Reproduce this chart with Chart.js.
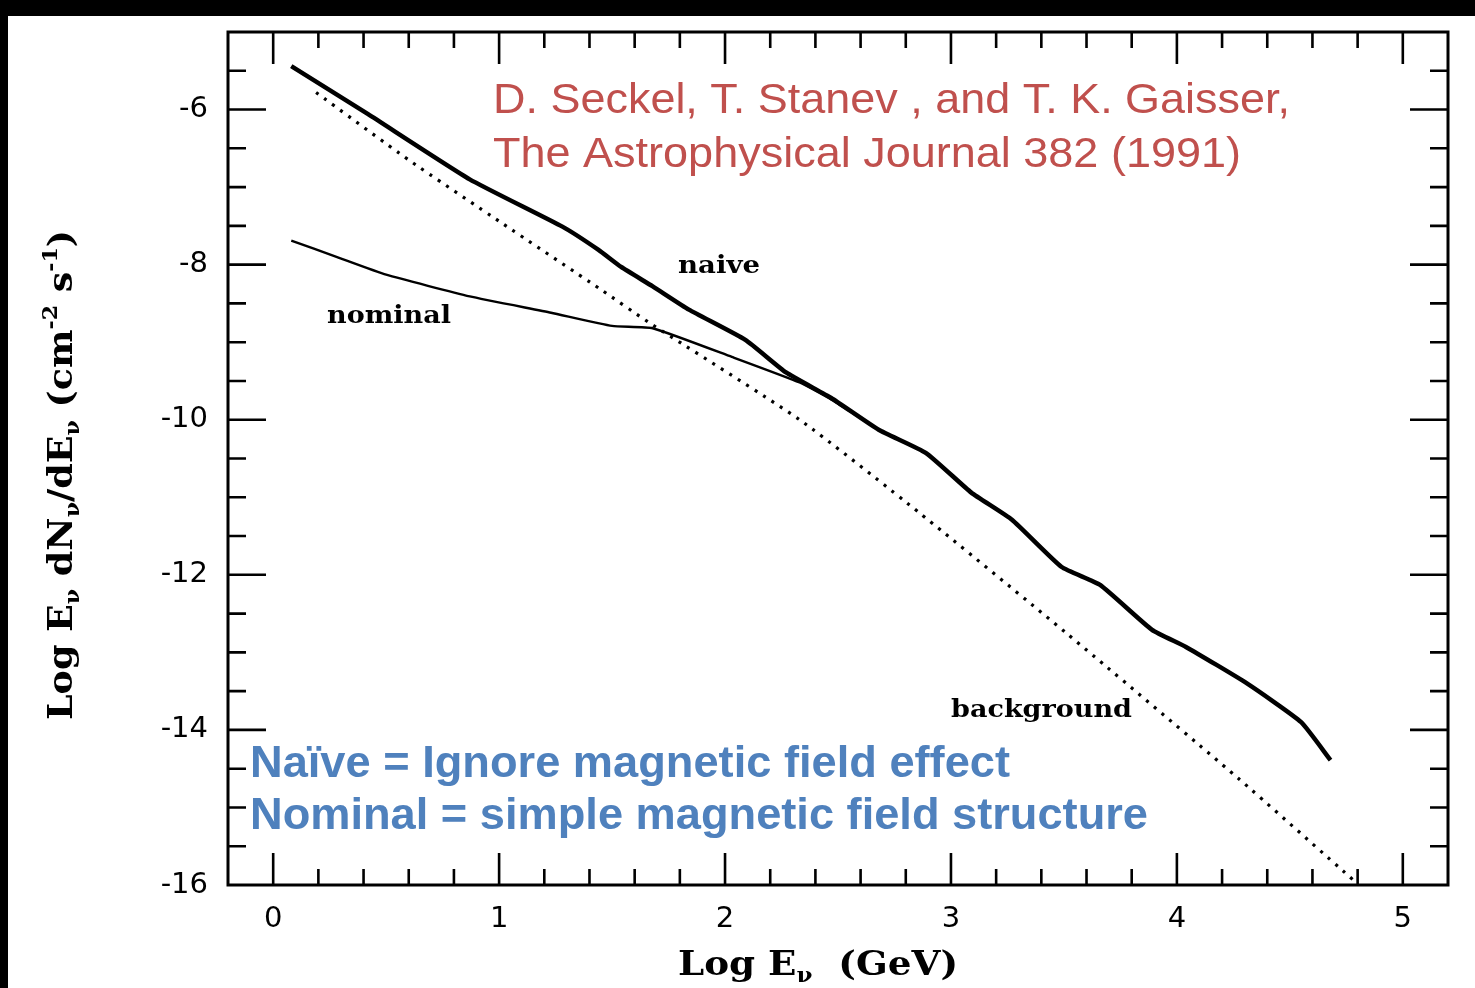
<!DOCTYPE html>
<html>
<head>
<meta charset="utf-8">
<script src="https://cdn.jsdelivr.net/npm/chart.js@4.4.1/dist/chart.umd.min.js"></script>
<style>
  html, body { margin: 0; padding: 0; background: #fff; }
  #wrap { width: 1475px; height: 988px; }
</style>
</head>
<body>
<div id="wrap"><canvas id="chart" width="1475" height="988"></canvas></div>
<script>
// curves (log E in GeV, log flux)
const naiveX = [0.08, 0.42, 0.87, 1.28, 1.44, 1.54, 1.68, 1.84, 2.09, 2.27, 2.47, 2.68, 2.89, 3.09, 3.27, 3.49, 3.66, 3.89, 4.04, 4.31, 4.55, 4.68];
const naiveY = [-5.44, -6.06, -6.90, -7.51, -7.81, -8.03, -8.28, -8.58, -8.97, -9.39, -9.72, -10.13, -10.43, -10.94, -11.29, -11.90, -12.13, -12.71, -12.93, -13.40, -13.90, -14.39];

const nominalX = [0.08, 0.28, 0.50, 0.87, 1.23, 1.50, 1.68, 2.03, 2.33, 2.47, 2.68];
const nominalY = [-7.69, -7.90, -8.13, -8.41, -8.62, -8.79, -8.82, -9.19, -9.52, -9.74, -10.13];

const backgroundX = [0.19, 0.60, 1.01, 1.45, 1.66, 2.33, 2.86, 3.51, 4.27, 4.79];
const backgroundY = [-5.78, -6.65, -7.46, -8.32, -8.74, -10.0, -11.2, -12.75, -14.62, -15.96];

const xTickLabels = [0, 1, 2, 3, 4, 5];
const yTickLabels = [-6, -8, -10, -12, -14, -16];

const curveLabels = [
  { text: "naive", x: 678, y: 273, w: 82 },
  { text: "nominal", x: 327, y: 323, w: 124 },
  { text: "background", x: 951, y: 717, w: 181 }
];
const refLines = ["D. Seckel, T. Stanev , and T. K. Gaisser,", "The Astrophysical Journal 382 (1991)"];
const noteLines = ["Naïve = Ignore magnetic field effect", "Nominal = simple magnetic field structure"];

function pts(xs, ys) {
  return xs.map((x, i) => ({ x: x, y: ys[i] }));
}

function isInt(v) {
  return Math.abs(v - Math.round(v)) < 1e-6;
}

function fitText(ctx, str, x, y, w) {
  const m = ctx.measureText(str).width;
  ctx.save();
  ctx.translate(x, y);
  ctx.scale(w / m, 1);
  ctx.fillText(str, 0, 0);
  ctx.restore();
}

// pieces: [text, kind] kind 0 normal, -1 subscript, 1 superscript
function richText(ctx, pieces, size, family, len) {
  let total = 0;
  const widths = pieces.map(p => {
    ctx.font = "bold " + (p[1] === 0 ? size : Math.round(size * 0.62)) + "px " + family;
    const w = ctx.measureText(p[0]).width;
    total += w;
    return w;
  });
  ctx.save();
  ctx.scale(len / total, 1);
  let cx = 0;
  pieces.forEach((p, i) => {
    ctx.font = "bold " + (p[1] === 0 ? size : Math.round(size * 0.62)) + "px " + family;
    let dy = 0;
    if (p[1] === -1) dy = size * 0.22;
    if (p[1] === 1) dy = -size * 0.45;
    ctx.fillText(p[0], cx, dy);
    cx += widths[i];
  });
  ctx.restore();
}

const decor = {
  id: "decor",
  beforeDraw(chart) {
    const ctx = chart.ctx;
    ctx.save();
    ctx.fillStyle = "#fff";
    ctx.fillRect(0, 0, chart.width, chart.height);
    ctx.fillStyle = "#000";
    ctx.fillRect(0, 0, chart.width, 16);
    ctx.fillRect(0, 0, 8, chart.height);
    ctx.restore();
  },
  afterDraw(chart) {
    const ctx = chart.ctx;
    const a = chart.chartArea;
    const xs = chart.scales.x, ys = chart.scales.y;
    ctx.save();
    ctx.strokeStyle = "#000";
    ctx.lineWidth = 3;
    ctx.strokeRect(a.left, a.top, a.right - a.left, a.bottom - a.top);
    ctx.lineWidth = 2.6;
    ctx.beginPath();
    xs.ticks.forEach(t => {
      const px = xs.getPixelForValue(t.value);
      if (px <= a.left + 2 || px >= a.right - 2) return;
      const len = isInt(t.value) ? 32 : 16;
      ctx.moveTo(px, a.bottom); ctx.lineTo(px, a.bottom - len);
      ctx.moveTo(px, a.top); ctx.lineTo(px, a.top + len);
    });
    ys.ticks.forEach(t => {
      const py = ys.getPixelForValue(t.value);
      if (py <= a.top + 2 || py >= a.bottom - 2) return;
      const len = (isInt(t.value) && Math.round(t.value) % 2 === 0) ? 38 : 18;
      ctx.moveTo(a.left, py); ctx.lineTo(a.left + len, py);
      ctx.moveTo(a.right, py); ctx.lineTo(a.right - len, py);
    });
    ctx.stroke();

    // curve labels
    ctx.fillStyle = "#000";
    ctx.textBaseline = "alphabetic";
    ctx.textAlign = "left";
    ctx.font = "bold 25px 'DejaVu Serif'";
    curveLabels.forEach(l => fitText(ctx, l.text, l.x, l.y, l.w));

    // reference
    ctx.fillStyle = "#c0504d";
    ctx.font = "43px 'Liberation Sans'";
    fitText(ctx, refLines[0], 493, 113, 797);
    fitText(ctx, refLines[1], 493, 167, 748);

    // notes
    ctx.fillStyle = "#4f81bd";
    ctx.font = "bold 44px 'Liberation Sans'";
    fitText(ctx, noteLines[0], 250, 777, 760);
    fitText(ctx, noteLines[1], 250, 829, 898);

    // axis titles
    ctx.fillStyle = "#000";
    ctx.save();
    ctx.translate(678, 975);
    richText(ctx, [["Log ", 0], ["E", 0], ["ν", -1], ["  (GeV)", 0]], 34, "'DejaVu Serif'", 280);
    ctx.restore();

    ctx.save();
    ctx.translate(72, 720);
    ctx.rotate(-Math.PI / 2);
    richText(ctx, [["Log E", 0], ["ν", -1], [" dN", 0], ["ν", -1], ["/dE", 0], ["ν", -1], [" (cm", 0], ["-2", 1], [" s", 0], ["-1", 1], [")", 0]], 33, "'DejaVu Serif'", 490);
    ctx.restore();
    ctx.restore();
  }
};

new Chart(document.getElementById("chart"), {
  type: "scatter",
  data: {
    datasets: [
      {
        label: "naive",
        data: pts(naiveX, naiveY),
        showLine: true,
        borderColor: "#000",
        borderWidth: 4.5,
        pointRadius: 0,
        tension: 0.15
      },
      {
        label: "nominal",
        data: pts(nominalX, nominalY),
        showLine: true,
        borderColor: "#000",
        borderWidth: 2.4,
        pointRadius: 0,
        tension: 0.15
      },
      {
        label: "background",
        data: pts(backgroundX, backgroundY),
        showLine: true,
        borderColor: "#000",
        borderWidth: 3.2,
        borderDash: [3, 7],
        pointRadius: 0,
        tension: 0.2
      }
    ]
  },
  options: {
    responsive: false,
    animation: false,
    layout: { padding: { top: 32, right: 27, left: 0, bottom: 0 } },
    plugins: { legend: { display: false }, tooltip: { enabled: false } },
    scales: {
      x: {
        type: "linear",
        min: -0.2,
        max: 5.2,
        grid: { display: false, drawTicks: false },
        border: { display: false },
        ticks: {
          stepSize: 0.2,
          padding: 17,
          autoSkip: false,
          maxRotation: 0,
          color: "#000",
          font: { family: "'DejaVu Sans'", size: 29 },
          callback: v => {
            const r = Math.round(v);
            return isInt(v) && xTickLabels.includes(r) ? String(r) : "";
          }
        },
        afterFit: s => { s.height = 103; s.paddingLeft = 0; s.paddingRight = 0; }
      },
      y: {
        type: "linear",
        min: -16,
        max: -5,
        grid: { display: false, drawTicks: false },
        border: { display: false },
        ticks: {
          stepSize: 0.5,
          padding: 20,
          autoSkip: false,
          color: "#000",
          font: { family: "'DejaVu Sans'", size: 29 },
          callback: v => {
            const r = Math.round(v);
            return isInt(v) && yTickLabels.includes(r) ? String(r) : "";
          }
        },
        afterFit: s => { s.width = 228; s.paddingTop = 0; s.paddingBottom = 0; }
      }
    }
  },
  plugins: [decor]
});
</script>
</body>
</html>
